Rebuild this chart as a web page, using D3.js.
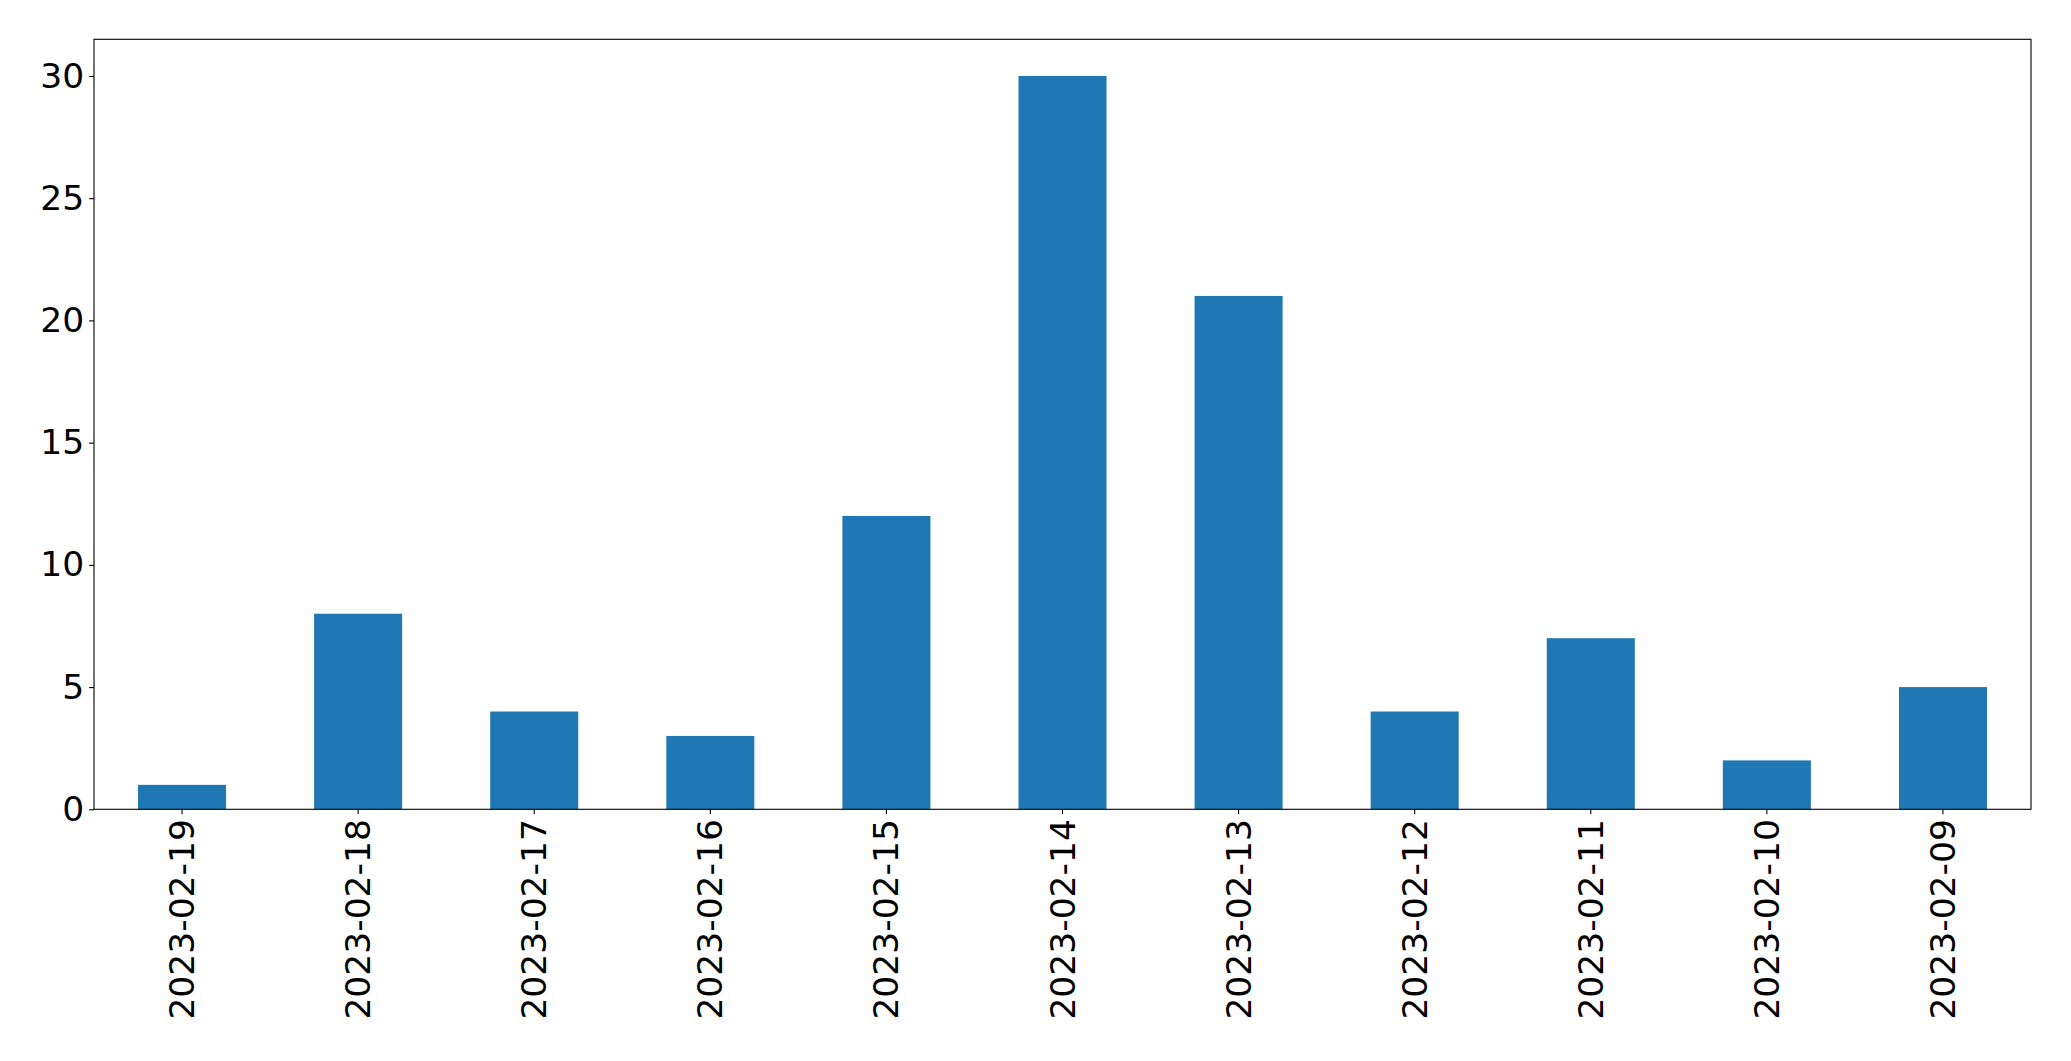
<!DOCTYPE html>
<html>
<head>
<meta charset="utf-8">
<script src="https://cdn.jsdelivr.net/npm/d3@7"></script>
<style>
  body { margin: 0; background: #fff; }
  svg { display: block; }
  text { font-family: "DejaVu Sans", sans-serif; fill: #000; }
</style>
</head>
<body>
<svg id="chart" width="2071" height="1061"></svg>
<script>
const categories = ["2023-02-19","2023-02-18","2023-02-17","2023-02-16","2023-02-15","2023-02-14","2023-02-13","2023-02-12","2023-02-11","2023-02-10","2023-02-09"];
const values = [1, 8, 4, 3, 12, 30, 21, 4, 7, 2, 5];
const yTicks = [0, 5, 10, 15, 20, 25, 30];

(function () {
const plotLeft = 94, plotRight = 2031, plotTop = 39.3, plotBottom = 809.3;
const fontPx = 34.5, tickLen = 4.9, pad = 4.9;

const svg = d3.select("#chart");

const x = d3.scaleBand().domain(categories).range([plotLeft, plotRight]).paddingInner(0.5).paddingOuter(0.25);
const y = d3.scaleLinear().domain([0, d3.max(values) * 1.05]).range([plotBottom, plotTop]);

// bars
svg.append("g").selectAll("rect").data(values).join("rect")
  .attr("x", (d, i) => x(categories[i]))
  .attr("width", x.bandwidth())
  .attr("y", d => y(d))
  .attr("height", d => y(0) - y(d))
  .attr("fill", "#1f77b4");

// y axis
const yAxis = d3.axisLeft(y).tickValues(yTicks).tickSize(tickLen).tickPadding(pad).tickFormat(d3.format("d"));
const gy = svg.append("g").attr("transform", `translate(${plotLeft},0)`).call(yAxis);
gy.select(".domain").remove();
gy.selectAll(".tick line").attr("stroke", "#000").attr("stroke-width", 1.1);
gy.selectAll(".tick text").attr("font-size", fontPx).attr("font-family", "DejaVu Sans").attr("fill", "#000");

// x axis
const xAxis = d3.axisBottom(x).tickSize(tickLen).tickPadding(pad);
const gx = svg.append("g").attr("transform", `translate(0,${plotBottom})`).call(xAxis);
gx.select(".domain").remove();
gx.selectAll(".tick line").attr("stroke", "#000").attr("stroke-width", 1.1);
gx.selectAll(".tick text")
  .attr("font-size", fontPx).attr("font-family", "DejaVu Sans").attr("fill", "#000")
  .attr("y", 0).attr("dy", "0.35em")
  .attr("transform", `translate(0,${tickLen + pad}) rotate(-90)`)
  .attr("text-anchor", "end");

// frame
svg.append("rect")
  .attr("x", plotLeft).attr("y", plotTop)
  .attr("width", plotRight - plotLeft).attr("height", plotBottom - plotTop)
  .attr("fill", "none").attr("stroke", "#000").attr("stroke-width", 1.1);
})();
</script>
</body>
</html>
